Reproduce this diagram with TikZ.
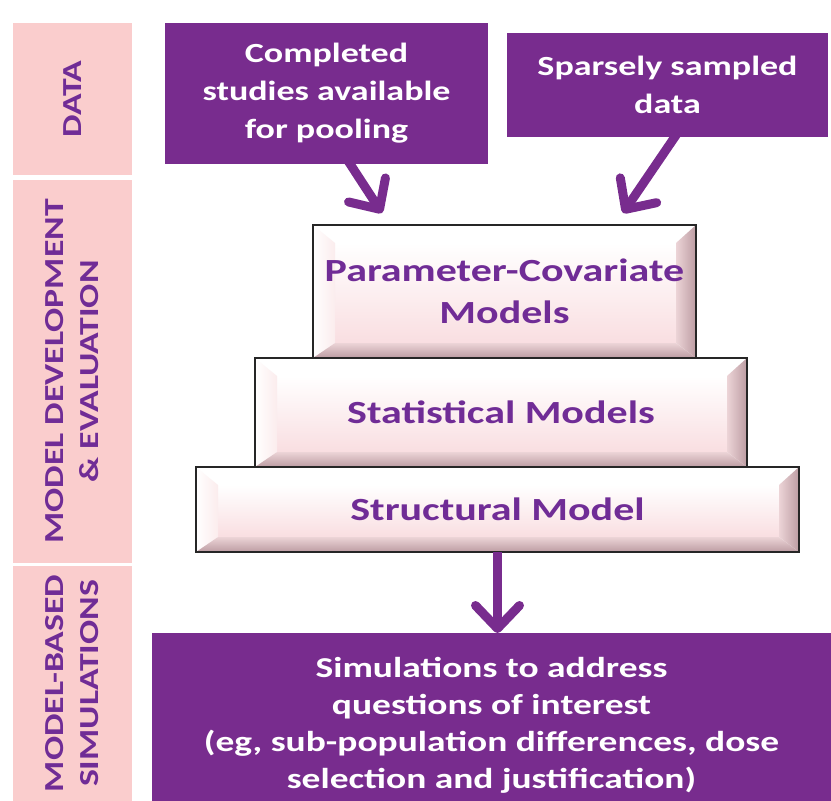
\documentclass[tikz,border=0pt]{standalone}
\usepackage{fontspec}
\setmainfont{Carlito}[FakeStretch=1.3]
\usetikzlibrary{arrows.meta,calc}

\definecolor{plum}{RGB}{120,44,142}
\definecolor{lilac}{RGB}{112,44,150}
\definecolor{blush}{RGB}{250,205,205}
\definecolor{facepink}{RGB}{249,222,225}
\definecolor{sidepink}{RGB}{251,236,237}
\definecolor{rimpink}{RGB}{236,212,215}
\definecolor{rimdark}{RGB}{188,156,162}

\tikzset{
  band/.style={fill=blush,inner sep=0pt,outer sep=0pt,anchor=north west},
  bandtext/.style={rotate=90,text=lilac,align=center,font=\fontsize{27.5}{35}\selectfont\bfseries},
  datbox/.style={fill=plum,text=white,inner sep=0pt,outer sep=0pt,anchor=north west,align=center,font=\fontsize{27.7}{38}\selectfont\bfseries},
  brick/.style={draw=black!85,line width=1.6pt,inner sep=0pt,outer sep=0pt,anchor=north west,align=center,
    text=lilac,font=\fontsize{32.3}{42}\selectfont\bfseries,
    path picture={
      \coordinate (bA) at (path picture bounding box.north west);
      \coordinate (bC) at (path picture bounding box.south east);
      \coordinate (bB) at (bC |- bA);
      \coordinate (bD) at (bA |- bC);
      \coordinate (fA) at ($(bA)+(22pt,-18pt)$);
      \coordinate (fC) at ($(bC)+(-20pt,15pt)$);
      \coordinate (fB) at (fC |- fA);
      \coordinate (fD) at (fA |- fC);
      \shade[top color=white,bottom color=facepink] (fA) rectangle (fC);
      \fill[white] (bA) -- (bB) -- (fB) -- (fA) -- cycle;
      \shade[left color=white,right color=sidepink] (bA) -- (fA) -- (fD) -- (bD) -- cycle;
      \shade[left color=rimpink,right color=rimdark] (bB) -- (bC) -- (fC) -- (fB) -- cycle;
      \shade[top color=rimpink,bottom color=rimdark] (bD) -- (fD) -- (fC) -- (bC) -- cycle;
    }},
  feed/.style={plum,line width=9pt,-{Straight Barb[length=23pt,width=44pt,round]}}
}

\begin{document}
\begin{tikzpicture}[x=1pt,y=-1pt]
\useasboundingbox (0,0) rectangle (831,801);

% stage bands on the left
\node[band,minimum width=119pt,minimum height=152pt] (bdata) at (13,23) {};
\node[band,minimum width=119pt,minimum height=383pt] (bdev) at (13,180) {};
\node[band,minimum width=119pt,minimum height=235pt] (bsim) at (13,566) {};
\node[bandtext] at (bdata) {DATA};
\node[bandtext] at (bdev) {MODEL DEVELOPMENT\\\& EVALUATION};
\node[bandtext] at (bsim) {MODEL-BASED\\SIMULATIONS};

% data sources
\node[datbox,minimum width=323pt,minimum height=141pt] (studies) at (165,23) {Completed\\studies available\\for pooling};
\node[datbox,minimum width=321pt,minimum height=104pt] (sparse) at (507,33) {Sparsely sampled\\data};

\coordinate (tipL) at (382,213);
\coordinate (tipR) at (623,213);
\draw[feed] ($(studies.south)+(21pt,4pt)$) -- (tipL);
\draw[feed] ($(sparse.south)+(10pt,4pt)$) -- (tipR);

% model pyramid
\node[brick,minimum width=383pt,minimum height=133pt] (pcm) at (313,225) {Parameter-Covariate\\Models};
\node[brick,minimum width=492pt,minimum height=109pt] (stm) at (255,358) {Statistical Models};
\node[brick,minimum width=603pt,minimum height=85pt] (sm) at (196,467) {Structural Model};

% simulations (box runs past the page edge)
\node[datbox,minimum width=679pt,minimum height=184pt,font=\fontsize{28.8}{37}\selectfont\bfseries] (sims) at (152,633) {Simulations to address\\questions of interest\\(eg, sub-population differences, dose\\selection and justification)};
\draw[feed] (sm.south) -- (sm.south |- sims.north);

\end{tikzpicture}
\end{document}
